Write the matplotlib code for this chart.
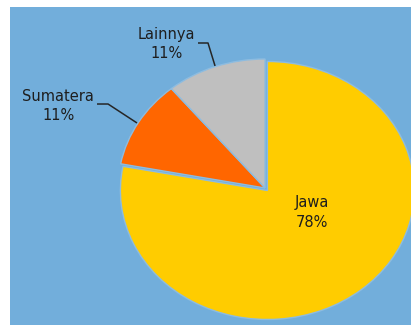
import numpy as np
import matplotlib
matplotlib.use('Agg')
import matplotlib.pyplot as plt

labels = ['Jawa', 'Sumatera', 'Lainnya']
shares = [78, 11, 11]
colors = ['#FFCC00', '#FF6600', '#BFBFBF']
explode = [0.025, 0, 0]

# label anchors and leader lines (data units of the pie, radius 1)
label_pos = {
    'Jawa': (0.32, -0.19),
    'Sumatera': (-1.408, 0.636),
    'Lainnya': (-0.673, 1.116),
}
leaders = {
    'Sumatera': ([-1.143, -1.068, -0.871], [0.651, 0.651, 0.504]),
    'Lainnya': ([-0.456, -0.388, -0.340], [1.124, 1.124, 0.946]),
}

bg = '#72AEDB'
fig = plt.figure(figsize=(4.11, 3.25), dpi=100, facecolor='white')
ax = fig.add_axes([10 / 411, 0, 401 / 411, 318 / 325])

wedges, _ = ax.pie(shares, colors=colors, explode=explode, startangle=90,
                   counterclock=False, radius=1.0, frame=True,
                   wedgeprops=dict(edgecolor='#8DBCE0', linewidth=1.0))
ax.set_facecolor(bg)
ax.set_aspect('auto')
ax.set_xlim(-1.735, 0.993)
ax.set_ylim(-1.062, 1.403)
for s in ax.spines.values():
    s.set_visible(False)
ax.set_xticks([])
ax.set_yticks([])

for name, val in zip(labels, shares):
    x, y = label_pos[name]
    ax.text(x, y, f'{name}\n{val}%', ha='center', va='center',
            fontsize=10.5, family='DejaVu Sans', color='#1e1e1e', linespacing=1.4)

for name, (xs, ys) in leaders.items():
    ax.plot(xs, ys, color='#262626', lw=1.1, solid_capstyle='butt')

fig.savefig('out.png', dpi=100, facecolor='white')
